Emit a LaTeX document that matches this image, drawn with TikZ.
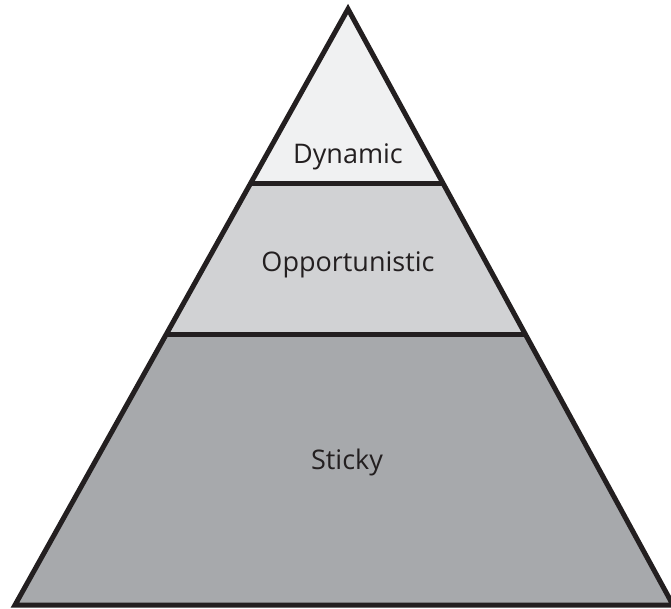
\documentclass[tikz,border=0pt]{standalone}
\usepackage{fontspec}
\setmainfont{Open Sans}
\usetikzlibrary{calc}
\colorlet{background}{white}
\definecolor{penColor}{HTML}{231F20}
\definecolor{topFill}{HTML}{F0F1F2}
\definecolor{midFill}{HTML}{D1D2D4}
\definecolor{lowFill}{HTML}{A7A9AC}
\tikzset{layer/.style={font=\fontsize{27}{32}\selectfont,text=penColor}}
\begin{document}
\begin{tikzpicture}[x=1pt,y=-1pt]
		\useasboundingbox (0,0) rectangle (671,608);
		\coordinate (apex) at (348,9);
		\coordinate (bl) at (15,605);
		\coordinate (br) at (673,605);
		\coordinate (a1) at ($(apex)!0.292!(bl)$);% upper divider, left
		\coordinate (b1) at ($(apex)!0.292!(br)$);% upper divider, right
		\coordinate (a2) at ($(apex)!0.5453!(bl)$);% lower divider, left
		\coordinate (b2) at ($(apex)!0.5453!(br)$);% lower divider, right
		
		\fill[topFill] (apex) -- (a1) -- (b1) -- cycle;
		\fill[midFill] (a1) -- (a2) -- (b2) -- (b1) -- cycle;
		\fill[lowFill] (a2) -- (bl) -- (br) -- (b2) -- cycle;
		
		\draw[penColor,line width=5pt] (a1) -- (b1);
		\draw[penColor,line width=5pt] (a2) -- (b2);
		\draw[penColor,line width=5pt] (apex) -- (bl) -- (br) -- cycle;
		
		\node[layer] (dynamic) at (348,157) {Dynamic};
		\node[layer] (opportunistic) at (348,265) {Opportunistic};
		\node[layer] (sticky) at (347,462) {Sticky};
		\end{tikzpicture}
\end{document}
